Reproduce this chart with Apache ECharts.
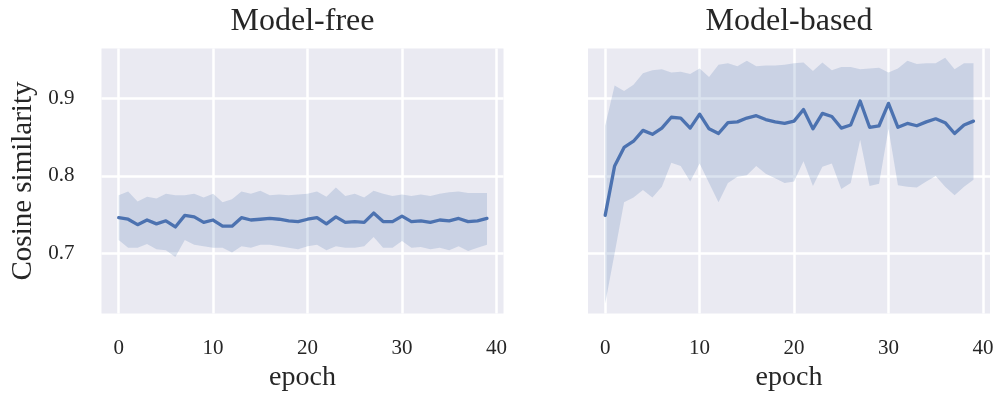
<!DOCTYPE html>
<html>
<head>
<meta charset="utf-8">
<script src="https://cdn.jsdelivr.net/npm/echarts@6/dist/echarts.min.js"></script>
<style>
html,body{margin:0;padding:0;background:#fff;}
#chart{width:999px;height:396px;}
</style>
</head>
<body>
<div id="chart"></div>
<script>
var epochs = [0,1,2,3,4,5,6,7,8,9,10,11,12,13,14,15,16,17,18,19,20,21,22,23,24,25,26,27,28,29,30,31,32,33,34,35,36,37,38,39];

var mfMean  = [0.746,0.744,0.737,0.743,0.738,0.742,0.734,0.749,0.747,0.740,0.743,0.735,0.735,0.746,0.743,0.744,0.745,0.744,0.742,0.741,0.744,0.746,0.738,0.747,0.740,0.741,0.740,0.752,0.741,0.741,0.748,0.741,0.742,0.740,0.743,0.742,0.745,0.741,0.742,0.745];
var mfUpper = [0.775,0.780,0.767,0.773,0.771,0.777,0.775,0.775,0.777,0.772,0.777,0.766,0.770,0.780,0.777,0.781,0.775,0.776,0.775,0.776,0.777,0.780,0.773,0.785,0.774,0.777,0.772,0.781,0.777,0.774,0.776,0.774,0.776,0.774,0.777,0.779,0.780,0.778,0.778,0.778];
var mfLower = [0.717,0.707,0.707,0.712,0.705,0.704,0.695,0.717,0.711,0.709,0.707,0.707,0.701,0.709,0.707,0.711,0.711,0.709,0.707,0.705,0.709,0.711,0.704,0.709,0.707,0.707,0.709,0.721,0.707,0.707,0.716,0.707,0.708,0.705,0.707,0.704,0.709,0.703,0.707,0.711];

var mbMean  = [0.749,0.813,0.837,0.845,0.859,0.854,0.862,0.876,0.875,0.862,0.880,0.861,0.855,0.869,0.870,0.875,0.878,0.873,0.870,0.868,0.871,0.886,0.861,0.881,0.877,0.862,0.866,0.897,0.863,0.865,0.894,0.863,0.868,0.865,0.870,0.874,0.869,0.855,0.866,0.871];
var mbUpper = [0.865,0.917,0.910,0.918,0.933,0.937,0.938,0.934,0.935,0.932,0.939,0.928,0.944,0.946,0.942,0.949,0.942,0.943,0.943,0.944,0.946,0.947,0.936,0.947,0.937,0.941,0.941,0.938,0.939,0.940,0.934,0.939,0.949,0.945,0.946,0.946,0.953,0.938,0.946,0.946];
var mbLower = [0.635,0.700,0.766,0.772,0.782,0.772,0.786,0.817,0.813,0.793,0.816,0.791,0.766,0.791,0.799,0.801,0.813,0.803,0.797,0.791,0.793,0.819,0.787,0.812,0.816,0.783,0.791,0.847,0.787,0.790,0.861,0.788,0.786,0.785,0.793,0.800,0.786,0.775,0.786,0.795];

var xTicks = [0,10,20,30,40];
var yTicks = [0.7,0.8,0.9];
var titles = ['Model-free','Model-based'];
var xName = 'epoch';
var yName = 'Cosine similarity';

var FONT = "'Liberation Serif', 'DejaVu Serif', serif";
var TXT = '#262626';
var LINE = '#4C72B0';
var XMIN = -1.82, XMAX = 40.75, YMIN = 0.622, YMAX = 0.965;

var chart = echarts.init(document.getElementById('chart'), null, {renderer:'canvas'});

function bandSeries(idx, lower, upper){
  return {
    type:'custom', xAxisIndex:idx, yAxisIndex:idx, z:2, silent:true, clip:true,
    data: epochs.map(function(e,i){return [e, lower[i], upper[i]];}),
    encode:{x:0, y:[1,2]},
    renderItem: function(params, api){
      if (params.dataIndex !== 0) return null;
      var pts = [];
      for (var i=0;i<epochs.length;i++) pts.push(api.coord([epochs[i], upper[i]]));
      for (var j=epochs.length-1;j>=0;j--) pts.push(api.coord([epochs[j], lower[j]]));
      return {type:'polygon', shape:{points:pts}, style:{fill:'rgba(76,114,176,0.2)', stroke:null}};
    }
  };
}

function gridMarks(){
  var d = [];
  xTicks.forEach(function(v){ d.push({xAxis:v}); });
  yTicks.forEach(function(v){ d.push({yAxis:v}); });
  return {silent:true, symbol:['none','none'], z:1, animation:false,
          label:{show:false}, lineStyle:{color:'#ffffff', width:2.5, type:'solid'},
          emphasis:{disabled:true}, data:d};
}

function lineSeries(idx, vals){
  return {
    type:'line', xAxisIndex:idx, yAxisIndex:idx, z:3, showSymbol:false, symbol:'none',
    data: epochs.map(function(e,i){return [e, vals[i]];}),
    lineStyle:{color:LINE, width:3.3, cap:'round', join:'round'},
    itemStyle:{color:LINE},
    markLine: gridMarks()
  };
}

function xAxis(idx){
  return {
    type:'value', gridIndex:idx, min:XMIN, max:XMAX,
    axisLine:{show:false}, axisTick:{show:false}, splitLine:{show:false},
    axisLabel:{customValues:xTicks, fontFamily:FONT, fontSize:21, color:TXT, margin:24},
    name:xName, nameLocation:'middle', nameGap:50,
    nameTextStyle:{fontFamily:FONT, fontSize:28, color:TXT}
  };
}
function yAxis(idx){
  var a = {
    type:'value', gridIndex:idx, min:YMIN, max:YMAX,
    axisLine:{show:false}, axisTick:{show:false}, splitLine:{show:false},
    axisLabel:{show: idx===0, customValues:yTicks, fontFamily:FONT, fontSize:21, color:TXT, margin:27,
               formatter:function(v){return v.toFixed(1);}}
  };
  if (idx===0){
    a.name = yName; a.nameLocation='middle'; a.nameGap=64;
    a.nameTextStyle={fontFamily:FONT, fontSize:29, color:TXT};
  }
  return a;
}

var option = {
  animation:false,
  backgroundColor:'#ffffff',
  title:[
    {text:titles[0], left:302.5, top:6, textAlign:'center', padding:0,
     textStyle:{fontFamily:FONT, fontSize:32, fontWeight:'normal', color:TXT}},
    {text:titles[1], left:789, top:6, textAlign:'center', padding:0,
     textStyle:{fontFamily:FONT, fontSize:32, fontWeight:'normal', color:TXT}}
  ],
  grid:[
    {left:101.5, top:48.5, width:402, height:265, show:true, backgroundColor:'#EAEAF2', borderWidth:0, containLabel:false, outerBoundsMode:'none'},
    {left:588, top:48.5, width:402, height:265, show:true, backgroundColor:'#EAEAF2', borderWidth:0, containLabel:false, outerBoundsMode:'none'}
  ],
  xAxis:[xAxis(0), xAxis(1)],
  yAxis:[yAxis(0), yAxis(1)],
  series:[
    bandSeries(0, mfLower, mfUpper),
    lineSeries(0, mfMean),
    bandSeries(1, mbLower, mbUpper),
    lineSeries(1, mbMean)
  ]
};
chart.setOption(option);
</script>
</body>
</html>
